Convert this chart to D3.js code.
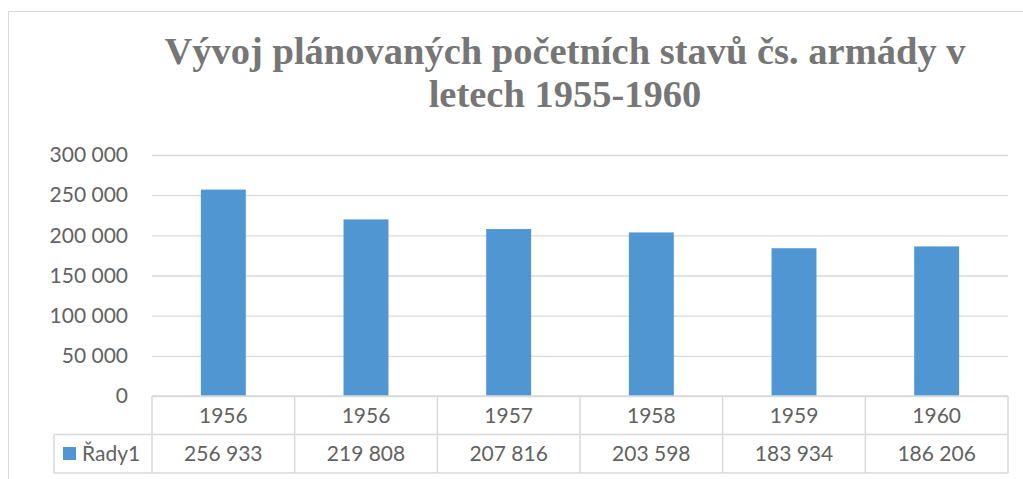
<!DOCTYPE html>
<html>
<head>
<meta charset="utf-8">
<script src="https://cdn.jsdelivr.net/npm/d3@7"></script>
<style>
  body { margin: 0; background: #fff; }
  svg { display: block; }
  .tick text, .cell { font-family: Lato, "Open Sans", sans-serif; fill: #626262; }
</style>
</head>
<body>
<svg id="chart" width="1023" height="479"></svg>
<script>
// data
const categories = ["1956", "1956", "1957", "1958", "1959", "1960"];
const values = [256933, 219808, 207816, 203598, 183934, 186206];
const seriesName = "Řady1";
const yTicks = [0, 50000, 100000, 150000, 200000, 250000, 300000];
const titleLines = ["Vývoj plánovaných početních stavů čs. armády v", "letech 1955-1960"];

const chart = {
    width: 1023,
    height: 479,
    left: 152,
    right: 1008,
    top: 155,
    bottom: 396,
    rowH: 38.5,
    legendLeft: 54,
    grid: "#d9d9d9",
    bar: "#5096d3",
    font: "21px",
};

const svg = d3.select("#chart");

// outer chart frame
svg.append("rect")
    .attr("x", 8.5).attr("y", 11.5)
    .attr("width", 1100).attr("height", 500)
    .attr("fill", "none")
    .attr("stroke", chart.grid);

// title
svg.append("g").selectAll("text")
    .data(titleLines)
    .enter().append("text")
        .attr("x", 565)
        .attr("y", (d, i) => 64 + i * 43)
        .attr("text-anchor", "middle")
        .style("font-family", "'Liberation Serif', 'Times New Roman', serif")
        .style("font-weight", "bold")
        .style("font-size", "38.5px")
        .style("fill", "#767676")
        .text(d => d);

const x = d3.scaleBand()
    .domain(d3.range(categories.length))
    .range([chart.left, chart.right])
    .paddingInner(0.685)
    .paddingOuter(0.3425);

const y = d3.scaleLinear()
    .domain([0, 300000])
    .range([chart.bottom, chart.top]);

const fmt = v => d3.format(",")(v).replace(/,/g, " ");

// gridlines + y labels
const yAxis = d3.axisLeft(y)
    .tickValues(yTicks)
    .tickSize(-(chart.right - chart.left))
    .tickPadding(24)
    .tickFormat(fmt);

svg.append("g")
    .attr("transform", "translate(" + chart.left + ",0)")
    .call(yAxis)
    .call(g => g.select(".domain").remove())
    .call(g => g.selectAll(".tick line").attr("stroke", chart.grid).attr("stroke-width", 1.3))
    .call(g => g.selectAll(".tick text").style("font-size", chart.font));

// bars
svg.append("g").selectAll("rect")
    .data(values)
    .enter().append("rect")
        .attr("x", (d, i) => x(i))
        .attr("y", d => y(d))
        .attr("width", x.bandwidth())
        .attr("height", d => y(0) - y(d))
        .attr("fill", chart.bar);

// data table below the plot
const table = svg.append("g");
const row1 = chart.bottom, row2 = chart.bottom + chart.rowH, row3 = chart.bottom + 2 * chart.rowH;
const step = x.step();
const colEdges = d3.range(categories.length + 1).map(i => chart.left + i * step);

const hLines = [
    [chart.left, chart.right, row1],
    [chart.legendLeft, chart.right, row2],
    [chart.legendLeft, chart.right, row3],
];
table.selectAll("line.h")
    .data(hLines)
    .enter().append("line")
        .attr("x1", d => d[0]).attr("x2", d => d[1])
        .attr("y1", d => d[2]).attr("y2", d => d[2])
        .attr("stroke", chart.grid).attr("stroke-width", 1.5);

table.selectAll("line.v")
    .data(colEdges)
    .enter().append("line")
        .attr("x1", d => d).attr("x2", d => d)
        .attr("y1", row1).attr("y2", row3)
        .attr("stroke", chart.grid).attr("stroke-width", 1.5);

table.append("line")
    .attr("x1", chart.legendLeft).attr("x2", chart.legendLeft)
    .attr("y1", row2).attr("y2", row3)
    .attr("stroke", chart.grid).attr("stroke-width", 1.5);

table.selectAll("text.cat")
    .data(categories)
    .enter().append("text")
        .attr("class", "cell")
        .attr("x", (d, i) => x(i) + x.bandwidth() / 2)
        .attr("y", row1 + chart.rowH / 2 + 7.5)
        .attr("text-anchor", "middle")
        .style("font-size", chart.font)
        .text(d => d);

table.selectAll("text.val")
    .data(values)
    .enter().append("text")
        .attr("class", "cell")
        .attr("x", (d, i) => x(i) + x.bandwidth() / 2)
        .attr("y", row2 + chart.rowH / 2 + 7.5)
        .attr("text-anchor", "middle")
        .style("font-size", chart.font)
        .text(d => fmt(d));

// legend key
table.append("rect")
    .attr("x", 63).attr("y", 447)
    .attr("width", 13).attr("height", 13)
    .attr("fill", chart.bar);

table.append("text")
    .attr("class", "cell")
    .attr("x", 82)
    .attr("y", row2 + chart.rowH / 2 + 7.5)
    .style("font-size", chart.font)
    .text(seriesName);
</script>
</body>
</html>
